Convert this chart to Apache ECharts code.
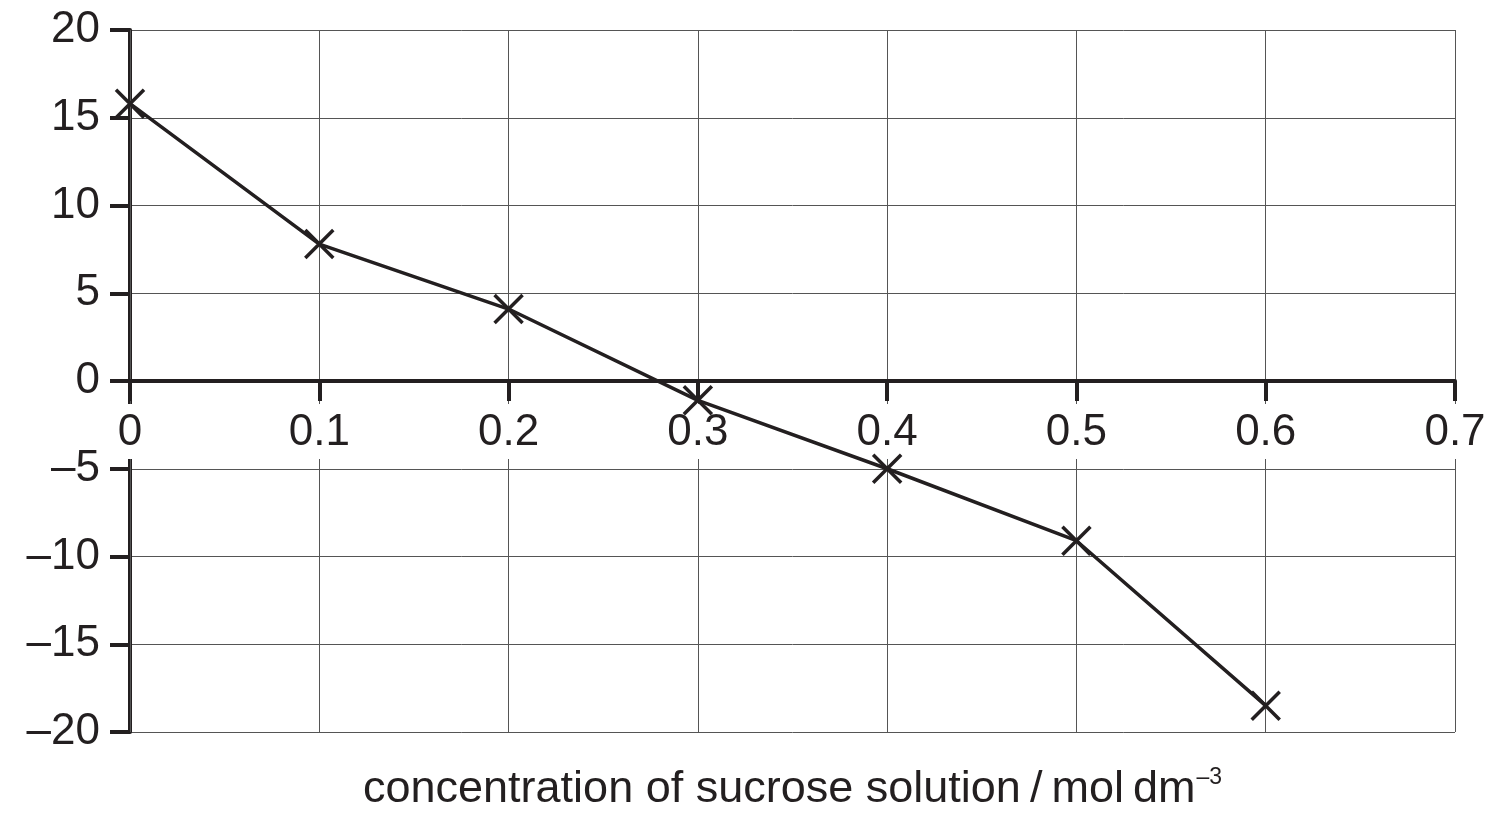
<!DOCTYPE html>
<html>
<head>
<meta charset="utf-8">
<style>
  html, body { margin: 0; padding: 0; background: #fff; }
  #chart { width: 1497px; height: 821px; }
</style>
<script src="https://cdn.jsdelivr.net/npm/echarts@6/dist/echarts.min.js"></script>
</head>
<body>
<div id="chart"></div>
<script>
// 数据
var concentrations = [0, 0.1, 0.2, 0.3, 0.4, 0.5, 0.6];
var changeValues = [15.8, 7.8, 4.1, -1.1, -5.0, -9.1, -18.5];
var xTicks = [0, 0.1, 0.2, 0.3, 0.4, 0.5, 0.6, 0.7];
var yTicks = [-20, -15, -10, -5, 0, 5, 10, 15, 20];

var ink = '#231f20';
var font = '"Liberation Sans", Arial, sans-serif';

var points = concentrations.map(function(c, i) { return [c, changeValues[i]]; });

var chart = echarts.init(document.getElementById('chart'));

// 网格高 702，零线在正中，x 轴向上平移一半
var option = {
    animation: false,
    grid: { left: 130, right: 42, top: 30, bottom: 89, containLabel: false, outerBoundsMode: 'none' },
    xAxis: {
        type: 'value',
        position: 'bottom',
        offset: -351,
        min: xTicks[0],
        max: xTicks[xTicks.length - 1],
        interval: 0.1,
        z: 1,
        axisLine: { show: true, onZero: false, lineStyle: { color: ink, width: 4 } },
        axisTick: { show: true, length: 20, lineStyle: { color: ink, width: 4 } },
        axisLabel: {
            margin: 23,
            color: ink,
            fontFamily: font,
            fontSize: 44,
            backgroundColor: '#fff',
            padding: [7, 4, 4, 4],
            hideOverlap: false,
            formatter: function(v) { return String(Math.round(v * 10) / 10); }
        },
        splitLine: { show: true, lineStyle: { color: '#555', width: 1 } },
        name: '{a|concentration of sucrose solution\u2009/\u2009mol\u2009dm}{s|\u20133}',
        nameLocation: 'middle',
        nameGap: 385,
        nameTextStyle: {
            rich: {
                a: { fontFamily: font, fontSize: 45, color: ink },
                s: { fontFamily: font, fontSize: 23, color: ink, padding: [0, 0, 24, 1] }
            }
        }
    },
    yAxis: {
        type: 'value',
        min: yTicks[0],
        max: yTicks[yTicks.length - 1],
        interval: 5,
        z: 0,
        axisLine: { show: true, onZero: false, lineStyle: { color: ink, width: 4 } },
        axisTick: { show: true, length: 20, lineStyle: { color: ink, width: 4 } },
        axisLabel: {
            margin: 30,
            color: ink,
            fontFamily: font,
            fontSize: 44,
            formatter: function(v) { return v < 0 ? '\u2013' + Math.abs(v) : String(v); }
        },
        splitLine: { show: true, lineStyle: { color: '#555', width: 1 } }
    },
    series: [{
        type: 'line',
        data: points,
        z: 2,
        symbol: 'path://M0,0L10,10M10,0L0,10',
        symbolSize: 28,
        showAllSymbol: true,
        lineStyle: { color: ink, width: 3.5 },
        itemStyle: { color: 'rgba(0,0,0,0)', borderColor: ink, borderWidth: 3.5 },
        emphasis: { disabled: true }
    }]
};

chart.setOption(option);
</script>
</body>
</html>
